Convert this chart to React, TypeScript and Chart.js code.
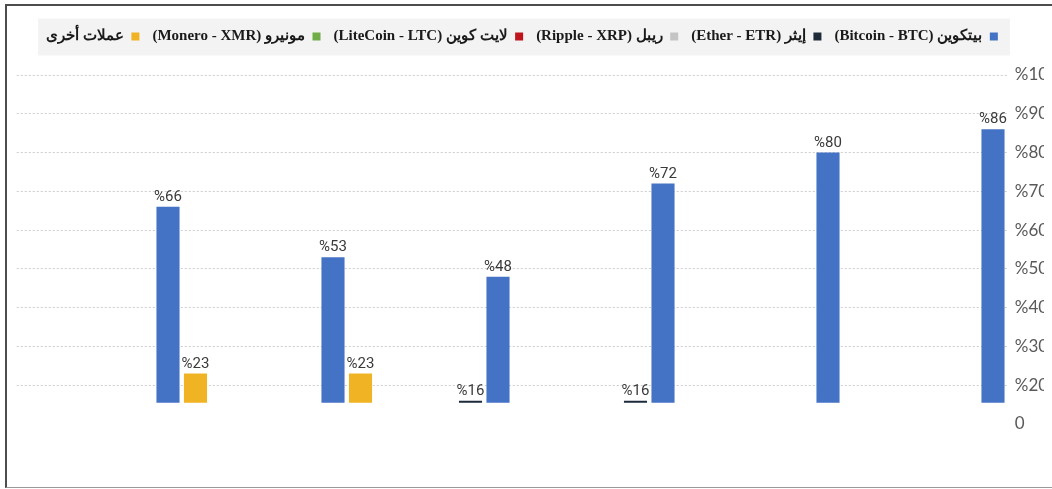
import React, { useEffect, useRef } from 'react';
import { Chart, registerables } from 'chart.js';

Chart.register(...registerables);

// ---- data ----
const categories = ['1', '2', '3', '4', '5', '6'];

const btcLabel = 'بيتكوين (Bitcoin - BTC)';
const etrLabel = 'إيثر (Ether - ETR)';
const xrpLabel = 'ريبل (Ripple - XRP)';
const ltcLabel = 'لايت كوين (LiteCoin - LTC)';
const xmrLabel = 'مونيرو (Monero - XMR)';
const otherLabel = 'عملات أخرى';

const btcValues = [66, 53, 48, 72, 80, 86];
const etrValues = [null, null, 16, 16, null, null];
const xrpValues = [null, null, null, null, null, null];
const ltcValues = [null, null, null, null, null, null];
const xmrValues = [null, null, null, null, null, null];
const otherValues = [null, 23, 23, null, null, null];

const yTickValues = [10, 20, 30, 40, 50, 60, 70, 80, 90, 100];
const yTickLabels = ['0', '%20', '%30', '%40', '%50', '%60', '%70', '%80', '%90', '%100'];
const barBase = 15.5;

const COLORS = {
  btc: '#4472c4',
  etr: '#1c2a3a',
  xrp: '#c4c4c4',
  ltc: '#c0141c',
  xmr: '#70ad47',
  other: '#f0b323',
};

const legendSpacePlugin = {
  id: 'legendSpace',
  beforeInit(chart: any) {
    const legend = chart.legend;
    if (!legend) return;
    const orig = legend.fit;
    legend.fit = function () {
      orig.call(legend);
      legend.height = 59;
    };
  },
};

const legendBgPlugin = {
  id: 'legendBg',
  beforeDraw(chart: any) {
    const legend = chart.legend;
    if (!legend || !legend.legendHitBoxes || !legend.legendHitBoxes.length) return;
    const boxes = legend.legendHitBoxes;
    let minL = Infinity;
    let maxR = -Infinity;
    let cy = 0;
    boxes.forEach((b: any) => {
      minL = Math.min(minL, b.left);
      maxR = Math.max(maxR, b.left + b.width);
      cy = b.top + b.height / 2;
    });
    const ctx = chart.ctx;
    ctx.save();
    ctx.fillStyle = '#f3f3f3';
    ctx.fillRect(minL - 8, cy - 18, maxR - minL + 20, 37);
    ctx.restore();
  },
};

const valueLabelPlugin = {
  id: 'valueLabels',
  afterDatasetsDraw(chart: any) {
    const ctx = chart.ctx;
    ctx.save();
    ctx.font = "15px 'Liberation Sans Narrow', 'Arial Narrow', Roboto, sans-serif";
    ctx.fillStyle = '#3a3a3a';
    ctx.textAlign = 'center';
    ctx.textBaseline = 'alphabetic';
    chart.data.datasets.forEach((ds: any, di: number) => {
      const meta = chart.getDatasetMeta(di);
      if (meta.hidden) return;
      meta.data.forEach((el: any, i: number) => {
        const v = ds.data[i];
        if (v === null || v === undefined) return;
        ctx.fillText('%' + v, el.x, el.y - 6);
      });
    });
    ctx.restore();
  },
};

export default function App() {
  const canvasRef = useRef<HTMLCanvasElement | null>(null);

  useEffect(() => {
    if (!canvasRef.current) return;
    const mk = (label: string, data: (number | null)[], color: string) => ({
      label,
      data,
      backgroundColor: color,
      borderWidth: 0,
      base: barBase,
      categoryPercentage: 1.0,
      barPercentage: 0.84,
      yAxisID: 'y',
    });
    const chart = new Chart(canvasRef.current, {
      type: 'bar',
      data: {
        labels: categories,
        datasets: [
          mk(otherLabel, otherValues, COLORS.other),
          mk(xmrLabel, xmrValues, COLORS.xmr),
          mk(ltcLabel, ltcValues, COLORS.ltc),
          mk(xrpLabel, xrpValues, COLORS.xrp),
          mk(etrLabel, etrValues, COLORS.etr),
          mk(btcLabel, btcValues, COLORS.btc),
        ],
      },
      options: {
        animation: false,
        responsive: true,
        maintainAspectRatio: false,
        layout: { padding: { left: 0, top: 16, right: 8, bottom: 65 } },
        plugins: {
          tooltip: { enabled: false },
          legend: {
            position: 'top',
            rtl: true,
            reverse: true,
            textDirection: 'rtl',
            labels: {
              boxWidth: 8,
              boxHeight: 8,
              padding: 13,
              color: '#1a1a1a',
              font: { family: "'Liberation Serif', 'DejaVu Serif', serif", size: 15, weight: 'bold' },
            },
          },
        },
        scales: {
          x: {
            display: false,
            offset: true,
            grid: { display: false },
          },
          yPad: {
            position: 'left',
            display: true,
            grid: { display: false },
            border: { display: false },
            ticks: { display: false },
            afterFit: (scale: any) => {
              scale.width = 16.75;
            },
          },
          y: {
            position: 'right',
            min: 10,
            max: 100,
            afterBuildTicks: (scale: any) => {
              scale.ticks = yTickValues.map((v) => ({ value: v }));
            },
            afterFit: (scale: any) => {
              scale.width = 37.25;
            },
            border: { display: false, dash: [2, 2] },
            grid: {
              drawTicks: false,
              color: (c: any) => (c.tick && c.tick.value === 10 ? 'rgba(0,0,0,0)' : '#cdcdcd'),
              lineWidth: 1,
            },
            ticks: {
              padding: 8,
              color: '#595959',
              font: { family: 'Lato', size: 17 },
              callback: (_v: any, idx: number) => yTickLabels[idx],
            },
          },
        },
      },
      plugins: [legendSpacePlugin, legendBgPlugin, valueLabelPlugin],
    } as any);
    return () => chart.destroy();
  }, []);

  return (
    <div style={{ position: 'absolute', left: 0, top: 0, width: 1052, height: 489, background: '#fff', overflow: 'hidden' }}>
      <canvas ref={canvasRef} style={{ position: 'absolute', left: 0, top: 0 }} />
      <div
        style={{
          position: 'absolute',
          left: 5,
          top: 4,
          width: 1060,
          height: 484,
          boxSizing: 'border-box',
          borderTop: '2px solid #4d4d4d',
          borderLeft: '2px solid #4d4d4d',
          borderBottom: '1px solid #9a9a9a',
          pointerEvents: 'none',
        }}
      />
    </div>
  );
}
